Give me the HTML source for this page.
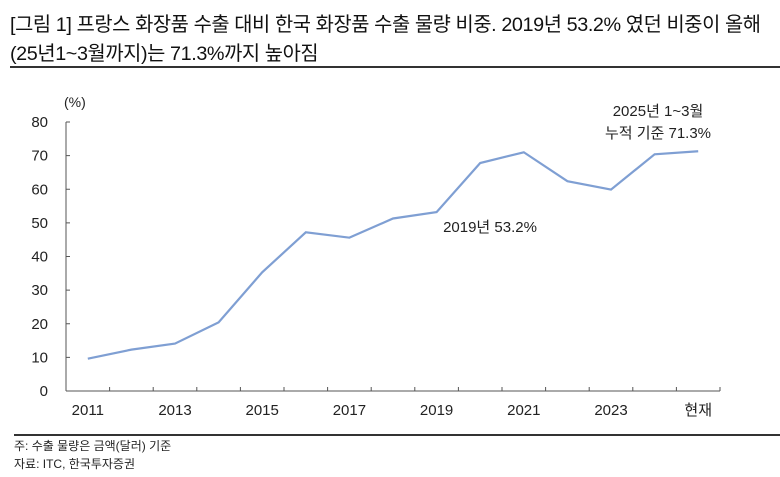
<!DOCTYPE html>
<html><head><meta charset="utf-8"><style>
body{margin:0;background:#fff;font-family:"Liberation Sans","Noto Sans CJK KR",sans-serif;}
#wrap{position:relative;width:780px;height:477px;overflow:hidden;}
.t{position:absolute;left:10px;font-size:19.8px;color:#111;white-space:nowrap;letter-spacing:-0.4px;font-weight:400;}
.n{position:absolute;left:14px;font-size:12px;color:#222;}
</style></head><body>
<div id="wrap">
<div class="t" style="top:8px">[그림 1] 프랑스 화장품 수출 대비 한국 화장품 수출 물량 비중. 2019년 53.2% 였던 비중이 올해</div>
<div class="t" style="top:37px">(25년1~3월까지)는 71.3%까지 높아짐</div>
<div style="position:absolute;left:10px;top:66px;width:770px;height:2px;background:#333"></div>
<svg id="c" width="780" height="477" style="position:absolute;left:0;top:0"></svg>
<div style="position:absolute;left:14px;top:434px;width:766px;height:2px;background:#333"></div>
<div class="n" style="top:437px">주: 수출 물량은 금액(달러) 기준</div>
<div class="n" style="top:455px">자료: ITC, 한국투자증권</div>
</div>
<script>
const categories=["2011","2012","2013","2014","2015","2016","2017","2018","2019","2020","2021","2022","2023","2024","현재"];
const values=[9.6,12.3,14.1,20.4,35.3,47.2,45.6,51.3,53.2,67.8,71.0,62.4,59.9,70.4,71.3];
const yTicks=[0,10,20,30,40,50,60,70,80];
const xLabels=["2011","","2013","","2015","","2017","","2019","","2021","","2023","","현재"];
const svg=document.getElementById('c');const NS='http://www.w3.org/2000/svg';
const L=66,R=720,T=122,B=391;
const bw=(R-L)/categories.length;
const x=i=>L+bw*(i+0.5);
const y=v=>B-(v/80)*(B-T);
function mk(tag,a,txt){const e=document.createElementNS(NS,tag);for(const k in a)e.setAttribute(k,a[k]);if(txt!=null)e.textContent=txt;svg.appendChild(e);return e;}
let e=mk('line',{x1:L,y1:T,x2:L,y2:B,stroke:'#555','stroke-width':1});


e=mk('line',{x1:L,y1:B,x2:R,y2:B,stroke:'#555','stroke-width':1});


yTicks.forEach(v=>{
 const t=mk('text',{x:48,y:y(v)+5,'text-anchor':'end','font-size':15,fill:'#222'},v);
 
 
 const tk=mk('line',{x1:L,y1:y(v),x2:L+4,y2:y(v),stroke:'#555'});
 
 
});
for(let i=0;i<=categories.length;i++){
 const tk=mk('line',{x1:L+bw*i,y1:B,x2:L+bw*i,y2:B-4,stroke:'#555'});
 
 
}
xLabels.forEach((s,i)=>{if(!s)return;
 const t=mk('text',{x:x(i),y:415,'text-anchor':'middle','font-size':15,fill:'#222'},s);
 
 
});
let u=mk('text',{x:64,y:107,'text-anchor':'start','font-size':14,fill:'#222'},'(%)');


const ln=mk('polyline',{points:values.map((v,i)=>x(i)+','+y(v)).join(' '),fill:'none',stroke:'#7f9fd3','stroke-width':2.2});


let a=mk('text',{x:490,y:232,'text-anchor':'middle','font-size':15,fill:'#222'},'2019년 53.2%');


a=mk('text',{x:658,y:116,'text-anchor':'middle','font-size':15,fill:'#222'},'2025년 1~3월');


a=mk('text',{x:658,y:138,'text-anchor':'middle','font-size':15,fill:'#222'},'누적 기준 71.3%');


</script>
</body></html>
